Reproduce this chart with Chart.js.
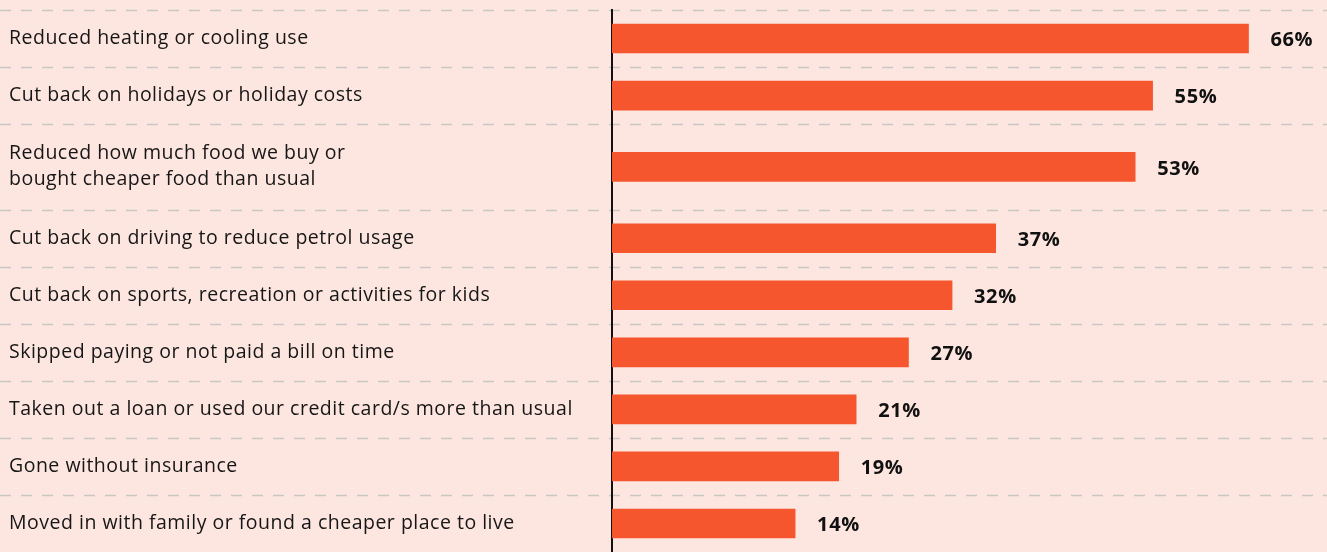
<!DOCTYPE html>
<html>
<head>
<meta charset="utf-8">
<script src="https://cdn.jsdelivr.net/npm/chart.js@4/dist/chart.umd.min.js"></script>
<style>
  html, body { margin: 0; padding: 0; background: #fde6e0; }
  #wrap { width: 1327px; height: 552px; position: relative; }
</style>
</head>
<body>
<div id="wrap"><canvas id="c"></canvas></div>
<script>
// Survey responses: actions households have taken (multi-line labels as arrays)
const categories = [
  ["Reduced heating or cooling use"],
  ["Cut back on holidays or holiday costs"],
  ["Reduced how much food we buy or", "bought cheaper food than usual"],
  ["Cut back on driving to reduce petrol usage"],
  ["Cut back on sports, recreation or activities for kids"],
  ["Skipped paying or not paid a bill on time"],
  ["Taken out a loan or used our credit card/s more than usual"],
  ["Gone without insurance"],
  ["Moved in with family or found a cheaper place to live"]
];
const shares = [66, 55, 53, 37, 32, 27, 21, 19, 14];

// Row heights grow with the number of label lines
const rowWeights = categories.map(lines => 1 + 0.5 * (lines.length - 1));
const rowBounds = [0];
rowWeights.forEach(w => rowBounds.push(rowBounds[rowBounds.length - 1] + w));
const rowCenters = rowWeights.map((w, i) => rowBounds[i] + w / 2);
const totalRows = rowBounds[rowBounds.length - 1];

const axisStart = -7;
const axisEnd = 75;

const FONT = "'Open Sans', sans-serif";

// Slightly open tracking for all text, plus dashed row separators
const separators = {
  id: 'separators',
  beforeDraw(chart) {
    const { ctx, scales: { y } } = chart;
    ctx.save();
    ctx.strokeStyle = '#c9c6c3';
    ctx.lineWidth = 1.6;
    ctx.setLineDash([11, 10]);
    rowBounds.slice(0, -1).forEach(b => {
      const py = Math.round(y.getPixelForValue(b)) + 0.5;
      ctx.beginPath();
      ctx.moveTo(0, py);
      ctx.lineTo(chart.width, py);
      ctx.stroke();
    });
    ctx.restore();
    ctx.letterSpacing = '0.5px';
  },
  afterDraw(chart) {
    chart.ctx.letterSpacing = '0px';
  }
};

// Percentage labels to the right of each bar
const valueLabels = {
  id: 'valueLabels',
  afterDatasetsDraw(chart) {
    const { ctx } = chart;
    const meta = chart.getDatasetMeta(0);
    ctx.save();
    ctx.font = "bold 20px " + FONT;
    ctx.letterSpacing = '0.6px';
    ctx.fillStyle = '#111111';
    ctx.textAlign = 'left';
    ctx.textBaseline = 'middle';
    meta.data.forEach((el, i) => {
      ctx.fillText(shares[i] + '%', el.x + 22, el.y + 2);
    });
    ctx.restore();
  }
};

new Chart(document.getElementById('c'), {
  type: 'bar',
  data: {
    datasets: [{
      data: shares.map((v, i) => ({ x: v, y: rowCenters[i] })),
      backgroundColor: '#f5562d',
      borderWidth: 0,
      barThickness: 29,
      base: axisStart
    }]
  },
  options: {
    indexAxis: 'y',
    responsive: true,
    maintainAspectRatio: false,
    animation: false,
    layout: { padding: { top: 10, left: 9, right: 0, bottom: 0 } },
    plugins: { legend: { display: false }, tooltip: { enabled: false } },
    scales: {
      x: { type: 'linear', min: axisStart, max: axisEnd, display: false },
      y: {
        type: 'linear',
        min: 0,
        max: totalRows,
        reverse: true,
        offset: false,
        afterBuildTicks(scale) {
          scale.ticks = rowCenters.map(v => ({ value: v }));
        },
        afterFit(scale) {
          scale.width = 603;
          scale.paddingTop = 0;
          scale.paddingBottom = 0;
        },
        grid: { display: false, drawTicks: false },
        border: { display: true, color: '#111111', width: 2 },
        ticks: {
          autoSkip: false,
          crossAlign: 'far',
          padding: 0,
          color: '#161616',
          font: { family: FONT, size: 19.5, lineHeight: 1.33 },
          callback: (value, index) => categories[index]
        }
      }
    }
  },
  plugins: [separators, valueLabels]
});
</script>
</body>
</html>
